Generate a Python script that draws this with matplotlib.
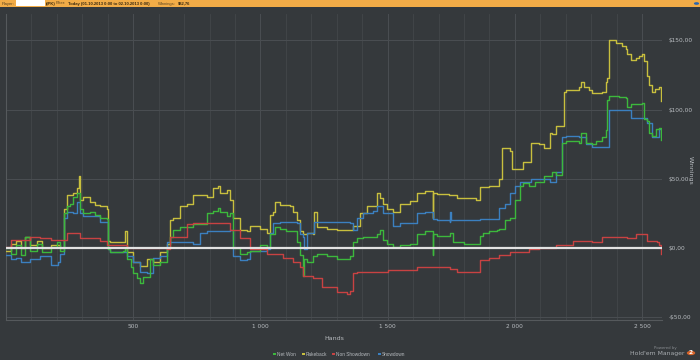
import matplotlib
matplotlib.use("Agg")
import matplotlib.pyplot as plt
from matplotlib.patches import Rectangle, Circle
from matplotlib.ticker import MultipleLocator

# ---------------- data ----------------
net_won_x = [0, 18, 40, 57, 75, 96, 120, 140, 175, 200, 214, 226, 241, 253, 265, 280, 292, 304, 331, 350,
             371, 398, 400, 410, 437, 461, 469, 477, 490, 500, 515, 527, 540, 555, 567, 578, 606, 633, 645,
             657, 684, 712, 735, 763, 790, 814, 833, 841, 869, 880, 892, 920, 947, 959, 998, 1026, 1037,
             1057, 1077, 1100, 1128, 1143, 1155, 1167, 1170, 1182, 1206, 1222, 1260, 1300, 1351, 1363,
             1379, 1402, 1441, 1457, 1469, 1480, 1496, 1520, 1547, 1586, 1614, 1645, 1677, 1678, 1680,
             1692, 1743, 1755, 1800, 1849, 1861, 1873, 1900, 1928, 1939, 1960, 1979, 2000, 2018, 2030,
             2057, 2080, 2116, 2147, 2163, 2186, 2202, 2253, 2261, 2281, 2304, 2320, 2343, 2359, 2363,
             2371, 2383, 2410, 2437, 2441, 2457, 2477, 2500, 2508, 2520, 2528, 2539, 2555, 2567, 2575]
net_won_y = [0, -4, 2, -5, 8, -2, 3, -3, 1, 4, -2, 25, 30, 32, 37, 40, 28, 25, 26, 24,
             22, 21, -1, -3, -3, -2, 0, -8, -14, -18, -22, -25, -21, -21, -8, -12, -10, 0, 8,
             13, 15, 15, 17, 17, 25, 27, 29, 26, 23, 25, 0, -4, -3, -2, 2, 1, 10,
             15, 14, 12, 12, 4, -5, -20, -8, -10, -6, -4, -6, -8, -6, 4,
             7, 8, 8, 10, 13, 6, 3, 1, 2, 3, 10, 12, 12, -5, 10,
             9, 11, 4, 3, 3, 9, 11, 12, 13, 14, 20, 22, 35, 45, 47,
             45, 48, 52, 55, 53, 76, 77, 76, 83, 76, 75, 77, 80, 85, 107,
             110, 110, 109, 108, 102, 104, 104, 105, 93, 92, 83, 81, 86, 87, 78]

rakeback_x = [0, 18, 40, 57, 75, 96, 120, 140, 175, 214, 226, 241, 265, 280, 285, 292, 304, 331, 350, 371,
              398, 400, 410, 437, 461, 469, 477, 500, 527, 555, 578, 606, 633, 645, 657, 684, 712, 735,
              763, 790, 814, 833, 841, 869, 880, 892, 920, 947, 959, 998, 1026, 1037, 1049, 1057, 1077,
              1116, 1128, 1143, 1155, 1167, 1182, 1206, 1210, 1222, 1260, 1300, 1351, 1363, 1390, 1418,
              1457, 1469, 1480, 1496, 1520, 1547, 1586, 1614, 1645, 1677, 1678, 1680, 1692, 1740, 1771,
              1849, 1861, 1900, 1939, 1951, 1979, 1990, 2018, 2030, 2057, 2065, 2096, 2116, 2136, 2147,
              2163, 2186, 2194, 2202, 2253, 2261, 2273, 2292, 2304, 2343, 2359, 2363, 2371, 2383, 2398,
              2420, 2437, 2441, 2457, 2477, 2488, 2500, 2508, 2520, 2528, 2539, 2550, 2567, 2575]
rakeback_y = [-2, 3, 5, 0, 8, 2, 5, 0, 2, 0, 28, 38, 40, 43, 52, 35, 37, 33, 31, 30,
              28, 5, 4, 4, 4, 12, -3, -10, -13, -8, -10, -3, 3, 20, 22, 30, 32, 38,
              38, 37, 43, 45, 40, 42, 35, 22, 13, 12, 16, 14, 11, 24, 26, 33, 31,
              30, 26, 20, 12, 10, 11, 10, 26, 15, 14, 13, 13, 16, 25, 30,
              40, 36, 32, 28, 26, 32, 34, 40, 41, 40, 22, 40, 39, 38, 36,
              35, 44, 45, 50, 72, 70, 57, 57, 62, 62, 76, 75, 72, 83, 82,
              88, 88, 113, 114, 116, 120, 116, 114, 112, 113, 120, 123, 150, 150, 148,
              146, 144, 140, 136, 137, 139, 140, 135, 124, 118, 113, 115, 116, 106]

non_showdown_x = [0, 18, 57, 96, 135, 175, 241, 280, 292, 371, 398, 477, 633, 645, 712, 735, 763, 841,
                  880, 920, 959, 1026, 1088, 1128, 1155, 1167, 1206, 1240, 1300, 1340, 1351, 1363, 1379,
                  1500, 1614, 1743, 1771, 1849, 1861, 1900, 1939, 1979, 2057, 2096, 2163, 2230, 2304,
                  2343, 2410, 2441, 2477, 2508, 2520, 2559, 2567, 2575]
non_showdown_y = [1, 6, 6, 8, 7, 6, 11, 11, 7, 5, 2, 0, -1, 8, 17, 18, 18, 18,
                  13, 7, -1, -4, -7, -10, -14, -20, -22, -28, -32, -33, -31, -18, -17,
                  -16, -14, -15, -17, -17, -9, -7, -5, -3, -1, 0, 2, 5, 4,
                  8, 8, 7, 10, 10, 5, 4, 2, -4]

showdown_x = [0, 18, 40, 57, 96, 135, 175, 206, 214, 226, 241, 265, 280, 292, 304, 371, 398, 400, 410,
              461, 477, 500, 527, 555, 578, 606, 633, 684, 735, 763, 790, 841, 880, 892, 920, 947, 959,
              1026, 1037, 1049, 1077, 1143, 1155, 1167, 1170, 1182, 1206, 1210, 1222, 1351, 1363, 1379,
              1402, 1441, 1457, 1480, 1520, 1547, 1614, 1645, 1677, 1680, 1692, 1743, 1745, 1750, 1849,
              1861, 1928, 1939, 1960, 1979, 2000, 2018, 2065, 2116, 2136, 2163, 2186, 2202, 2253, 2281,
              2304, 2363, 2371, 2449, 2457, 2508, 2520, 2539, 2559, 2567, 2575]
showdown_y = [-5, -8, -7, -10, -8, -6, -12, -10, -4, 22, 26, 25, 33, 25, 23, 19, 19, -1, -3,
              -3, -6, -10, -17, -18, -7, -6, 4, 4, 3, 11, 12, 12, 13, -6, -9, -8, -2,
              -1, 11, 18, 19, 18, 10, 8, -1, 11, 11, 19, 19, 18, 13, 22,
              25, 27, 30, 25, 16, 18, 25, 26, 25, 21, 20, 19, 26, 20, 20,
              21, 21, 29, 32, 40, 45, 48, 50, 50, 48, 55, 80, 81, 80, 75,
              73, 73, 100, 100, 94, 94, 90, 80, 80, 86, 86]

series_names = ["Net Won", "Rakeback", "Non Showdown", "Showdown"]
series_colors = ["#3cb83c", "#c8bf3e", "#c84242", "#3b80c0"]

x_ticks = [500, 1000, 1500, 2000, 2500]
x_tick_labels = ["500", "1 000", "1 500", "2 000", "2 500"]
y_ticks = [-50, 0, 50, 100, 150]
y_tick_labels = ["-$50,00", "$0,00", "$50,00", "$100,00", "$150,00"]

# ---------------- figure ----------------
BG = "#35393c"
GRID = "#43474a"
TXT = "#b8bcc0"

plt.rcParams['font.family'] = ['DejaVu Sans']
fig = plt.figure(figsize=(7, 3.6), dpi=100, facecolor=BG)
ax = fig.add_axes([6 / 700, 1 - 320 / 360, (662 - 6) / 700, (320 - 14) / 360])
ax.set_facecolor(BG)

ax.set_xlim(0, 2578)
ax.set_ylim(-52, 169)

ax.xaxis.set_minor_locator(MultipleLocator(100))
ax.set_xticks(x_ticks)
ax.set_xticklabels(x_tick_labels)
ax.set_yticks(y_ticks)
ax.set_yticklabels(y_tick_labels)
ax.yaxis.tick_right()
ax.tick_params(axis='both', which='both', length=0, colors=TXT, labelsize=4.2)
ax.tick_params(axis='x', pad=3)
ax.tick_params(axis='y', pad=5)

ax.grid(True, which='major', axis='both', color="#4a4e52", lw=0.7)
ax.grid(True, which='minor', axis='x', color=GRID, lw=0.6)
ax.set_axisbelow(True)

for s in ["top", "right"]:
    ax.spines[s].set_visible(False)
for s in ["left", "bottom"]:
    ax.spines[s].set_color("#55595c")
    ax.spines[s].set_linewidth(0.8)

xs = [net_won_x, rakeback_x, non_showdown_x, showdown_x]
ys = [net_won_y, rakeback_y, non_showdown_y, showdown_y]
order = [1, 3, 0, 2]
for i in order:
    ax.step(xs[i], ys[i], where='post', color=series_colors[i], lw=1.0, zorder=3)

ax.axhline(0, color="#e2e2e2", lw=1.6, zorder=4)

ax.set_xlabel("Hands", color=TXT, fontsize=4.5, labelpad=5)
fig.text(690 / 700, 1 - 170 / 360, "Winnings", rotation=270, color=TXT, fontsize=4.5,
         ha='center', va='center')

# ---------------- header bar ----------------
fig.patches.append(Rectangle((0, 1 - 7 / 360), 1, 7 / 360, transform=fig.transFigure,
                             facecolor="#f2ac47", edgecolor="none", zorder=1))
fig.patches.append(Rectangle((16 / 700, 1 - 6 / 360), 29 / 700, 6 / 360, transform=fig.transFigure,
                             facecolor="white", edgecolor="none", zorder=2))
hy = 1 - 3.5 / 360
HF = ['Liberation Sans', 'DejaVu Sans']
fig.text(2 / 700, hy, "Player:", fontsize=3.0, color="#5a4320", va='center', family=HF)
fig.text(46 / 700, hy, "(IPK)", fontsize=3.0, color="#3a2a10", va='center', family=HF, weight='bold')
fig.text(56 / 700, hy, "Filter:", fontsize=3.0, color="#5a4320", va='center', family=HF)
fig.text(68 / 700, hy, "Today (01.10.2013 0:00 to 02.10.2013 0:00)", fontsize=3.0,
         color="#3a2a10", va='center', weight='bold', family=HF)
fig.text(158 / 700, hy, "Winnings:", fontsize=3.0, color="#5a4320", va='center', family=HF)
fig.text(178 / 700, hy, "$82,76", fontsize=3.0, color="#3a2a10", va='center', weight='bold', family=HF)
fig.patches.append(Circle((696.5 / 700, 1 - 3.5 / 360), 2.6 / 700, transform=fig.transFigure,
                          facecolor="#2a66b0", edgecolor="none", zorder=3))

# ---------------- legend ----------------
leg_x = [273, 302, 332, 378]
for i, name in enumerate(series_names):
    fx = leg_x[i] / 700
    fy = 1 - 354 / 360
    fig.patches.append(Rectangle((fx, fy - 1.3 / 360), 2.6 / 700, 2.6 / 360, transform=fig.transFigure,
                                 facecolor=series_colors[i], edgecolor="none"))
    fig.text(fx + 4 / 700, fy, name, fontsize=3.4, color=TXT, va='center',
             family=['Liberation Sans', 'DejaVu Sans'])

# ---------------- branding ----------------
fig.text(677 / 700, 1 - 348 / 360, "Powered by", fontsize=2.8, color="#8a8e92", ha='right', va='center')
fig.text(684 / 700, 1 - 354 / 360, "Hold'em Manager", fontsize=4.4, color="#a8acb0", ha='right', va='center')
fig.patches.append(Circle((691 / 700, 1 - 353 / 360), 4.2 / 700, transform=fig.transFigure,
                          facecolor="#d8642a", edgecolor="none"))
fig.text(691 / 700, 1 - 353 / 360, "2", fontsize=4.2, color="white", ha='center', va='center',
         weight='bold')

fig.savefig("out.png", dpi=100, facecolor=BG)
